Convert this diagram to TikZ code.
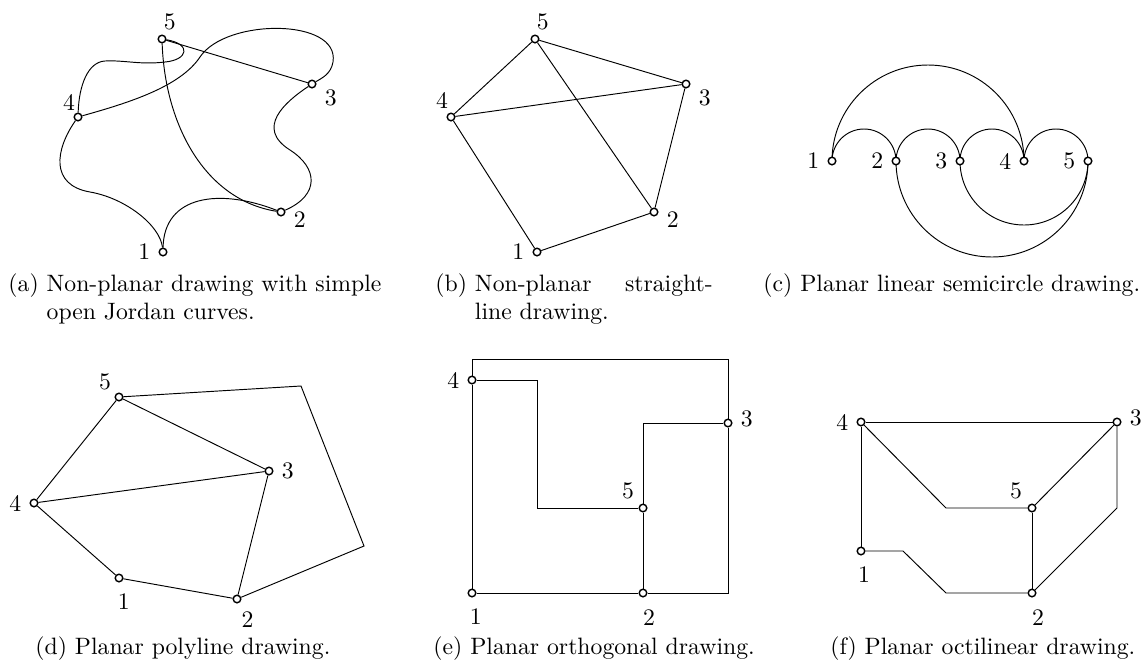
\documentclass[tikz,border=0pt]{standalone}
\usetikzlibrary{backgrounds}

\begin{document}
\begin{tikzpicture}[
    x=0.4219pt, y=0.4219pt,
    vtx/.style={circle, draw, fill=white, inner sep=0pt, minimum size=3.2pt, line width=0.6pt},
    subcap/.style={anchor=base west, align=left, inner sep=0pt},
]
    \useasboundingbox (0,0) rectangle (1142,-662);

    % (a) Jordan curves
    \node[vtx, label=left:1] (a1) at (163,-252) {};
    \node[vtx, label={[yshift=-3.4pt]right:2}] (a2) at (281,-212) {};
    \node[vtx, label={[yshift=-5.9pt]right:3}] (a3) at (312,-84) {};
    \node[vtx, label={[xshift=-3.8pt, label distance=-2.5pt]above:4}] (a4) at (78,-117) {};
    \node[vtx, label={[xshift=3.3pt, label distance=-1.5pt]above:5}] (a5) at (162,-39) {};
    \draw (a5) -- (a3);
    \draw (a5) .. controls (165,-125) and (205,-200) .. (a2);
    \draw (a5) .. controls (192,-44) and (188,-60) .. (165,-62)
        .. controls (140,-65) and (125,-60) .. (105,-61)
        .. controls (88,-62) and (79,-85) .. (a4);
    \draw (a4) .. controls (128,-103) and (180,-87) .. (200,-57)
        .. controls (226,-18) and (340,-18) .. (333,-62)
        .. controls (331,-74) and (322,-78) .. (a3);
    \draw (a3) .. controls (285,-102) and (255,-128) .. (290,-150)
        .. controls (318,-168) and (320,-195) .. (a2);
    \draw (a4) .. controls (55,-150) and (50,-185) .. (90,-192)
        .. controls (125,-198) and (160,-225) .. (a1);
    \draw (a1) .. controls (164,-195) and (220,-188) .. (a2);
    \node[subcap] (capa) at (8,-319.5) {(a) Non-planar drawing with simple\\\phantom{(a)~}open Jordan curves.};

    % (b) straight lines
    \node[vtx, label=left:1] (b1) at (537,-252) {};
    \node[vtx, label={[yshift=-3.4pt]right:2}] (b2) at (654,-212) {};
    \node[vtx, label={[yshift=-5.9pt]right:3}] (b3) at (686,-84) {};
    \node[vtx, label={[xshift=-3.8pt, label distance=-1.8pt]above:4}] (b4) at (451,-117) {};
    \node[vtx, label={[xshift=3.3pt, label distance=-1.5pt]above:5}] (b5) at (535,-39) {};
    \draw (b5) -- (b4);
    \draw (b5) -- (b3);
    \draw (b5) -- (b2);
    \draw (b4) -- (b3);
    \draw (b4) -- (b1);
    \draw (b1) -- (b2);
    \draw (b3) -- (b2);
    \node[subcap] (capb) at (435,-319.5) {\makebox[117pt][l]{(b) Non-planar\hfill straight-}\\\phantom{(b)~}line drawing.};

    % (c) semicircles
    \foreach \i in {1,...,5}
        \node[vtx, label=left:\i] (c\i) at (768+64*\i,-161) {};
    \begin{scope}[on background layer]
        \foreach \i in {1,...,4}
            \draw (c\i.center) arc[start angle=180, end angle=0, radius=32];
        \draw (c1.center) arc[start angle=180, end angle=0, radius=96];
        \draw (c3.center) arc[start angle=180, end angle=360, radius=64];
        \draw (c2.center) arc[start angle=180, end angle=360, radius=96];
    \end{scope}
    \node[subcap] (capc) at (763,-291) {(c) Planar linear semicircle drawing.};

    % (d) polyline
    \node[vtx, label={[xshift=2pt, label distance=1.2pt]below:1}] (d1) at (119,-578) {};
    \node[vtx, label={[xshift=4.5pt]below:2}] (d2) at (237,-599) {};
    \node[vtx, label=right:3] (d3) at (269,-471) {};
    \node[vtx, label=left:4] (d4) at (34,-503) {};
    \node[vtx, label={[xshift=-5.9pt, label distance=-2.3pt]above:5}] (d5) at (119,-397) {};
    \draw (d5) -- (d4);
    \draw (d5) -- (d3);
    \draw (d4) -- (d3);
    \draw (d4) -- (d1);
    \draw (d1) -- (d2);
    \draw (d3) -- (d2);
    \draw (d5) -- (301,-386) -- (364,-546) -- (d2);
    \node[subcap] (capd) at (35,-654) {(d) Planar polyline drawing.};

    % (e) orthogonal
    \node[vtx, label={[xshift=1.6pt, label distance=1pt]below:1}] (e1) at (472,-593) {};
    \node[vtx, label={[xshift=2.5pt, label distance=1.5pt]below:2}] (e2) at (643,-593) {};
    \node[vtx, label={[yshift=1.7pt]right:3}] (e3) at (728,-423) {};
    \node[vtx, label=left:4] (e4) at (472,-380) {};
    \node[vtx, label={[xshift=-6.3pt, label distance=-1.5pt]above:5}] (e5) at (643,-508) {};
    \draw (e4) -- (e1);
    \draw (e1) -- (e2);
    \draw (e5) -- (e2);
    \draw (e4) -- ++(0,21) -| (e3);
    \draw (e3) |- (e2);
    \draw (e4) -- ++(65,0) |- (e5);
    \draw (e3) -| (e5);
    \node[subcap] (cape) at (433,-654) {(e) Planar orthogonal drawing.};

    % (f) octilinear
    \node[vtx, label={[xshift=1.3pt, label distance=1pt]below:1}] (f1) at (861,-551) {};
    \node[vtx, label={[xshift=2.5pt, label distance=1.5pt]below:2}] (f2) at (1032,-593) {};
    \node[vtx, label={[yshift=1.7pt]right:3}] (f3) at (1117,-422) {};
    \node[vtx, label=left:4] (f4) at (861,-422) {};
    \node[vtx, label={[xshift=-6.7pt, label distance=-1.8pt]above:5}] (f5) at (1032,-508) {};
    \draw (f4) -- (f3);
    \draw (f4) -- (f1);
    \draw (f3) -- (f5);
    \draw (f5) -- (f2);
    \draw (f4) -- ++(85,-86) -- (f5);
    \draw (f1) -- ++(42,0) -- ++(43,-42) -- (f2);
    \draw (f3) -- ++(0,-86) -- (f2);
    \node[subcap] (capf) at (830,-654) {(f) Planar octilinear drawing.};
\end{tikzpicture}
\end{document}
